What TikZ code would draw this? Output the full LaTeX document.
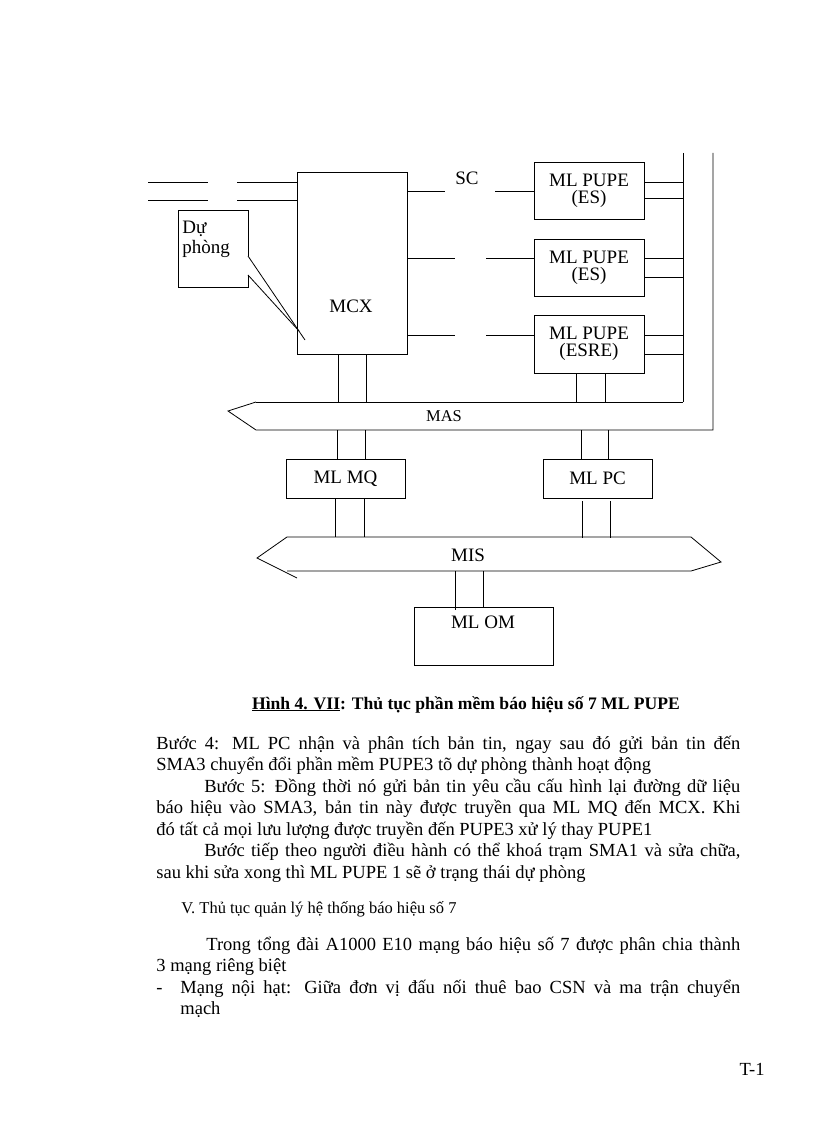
\documentclass[tikz,border=0pt]{standalone}
\usepackage{fontspec}
\setmainfont{Liberation Serif}
\begin{document}
\begin{tikzpicture}[x=1pt,y=-1pt,line width=0.8pt,
  box/.style={draw,inner sep=0pt},
  lbl/.style={font=\fontsize{19}{19}\selectfont,align=center},
  body/.style={anchor=base west,inner sep=0pt,font=\fontsize{18.5}{21}\selectfont}]
\useasboundingbox (0,0) rectangle (816,1123);
% boxes
\node[box,minimum width=110pt,minimum height=182pt] (mcx) at (352,263) {};
\node[lbl] at (351,306) {MCX};
\node[box,minimum width=110pt,minimum height=57pt,lbl] (p1) at (589,190.5) {ML PUPE\\[-2pt](ES)};
\node[box,minimum width=110pt,minimum height=57pt,lbl] (p2) at (589,267.5) {ML PUPE\\[-2pt](ES)};
\node[box,minimum width=110pt,minimum height=58pt,lbl] (p3) at (589,344) {ML PUPE\\[-2pt](ESRE)};
\node[box,minimum width=119pt,minimum height=39pt,lbl] (mq) at (345.5,478.5) {ML MQ};
\node[box,minimum width=109pt,minimum height=39pt,lbl] (pc) at (597.5,478.5) {ML PC};
\node[box,minimum width=139pt,minimum height=58pt] (om) at (483.5,636) {};
\node[lbl] at (483,622) {ML OM};
% Du phong callout
\draw (248,256) -- (248,210) -- (178,210) -- (178,287) -- (248,287) -- (248,275);
\draw (248,256) -- (305,340);
\draw (248,275) -- (299,331);
\node[lbl,anchor=north west,align=left,inner sep=0pt] (dp) at (182,221) {Dự\\[1pt]phòng};
% left input lines
\draw (148,182) -- (208,182) (237,182) -- (mcx.west |- 0,182);
\draw (148,200) -- (208,200) (237,200) -- (mcx.west |- 0,200);
% MCX -> PUPE lines
\draw (mcx.east |- 0,191) -- (445,191) (495,191) -- (p1.west |- 0,191);
\node[lbl] (sc) at (467,178) {SC};
\draw (mcx.east |- 0,258) -- (455,258) (486,258) -- (p2.west |- 0,258);
\draw (mcx.east |- 0,335) -- (455,335) (486,335) -- (p3.west |- 0,335);
% PUPE right lines
\coordinate (v1t) at (683,153);
\coordinate (v1b) at (683,402);
\draw (v1t) -- (v1b);
\foreach \y in {182,198,258,277,335,354} \draw (644,\y) -- (683,\y);
% MAS bus
\coordinate (o1) at (713,153);
\draw (256,402) -- (v1b);
\draw (o1) -- (713,430) -- (256,430) -- (228,411) -- (256,402);
\node[font=\fontsize{16.5}{17}\selectfont] (mas) at (444,416) {MAS};
% MCX - MAS - MQ
\draw (338,354) -- (338,402) (366,354) -- (366,402);
\draw (337,430) -- (337,459) (365,430) -- (365,459);
\draw (576,373) -- (576,402) (605,373) -- (605,402);
\draw (581,430) -- (581,459) (608,430) -- (608,459);
% MIS bus
\draw (335,499) -- (335,537) (364,499) -- (364,537);
\draw (582,501) -- (582,538) (610,501) -- (610,538);
\draw (287,537) -- (691,537) -- (721,562) -- (691,571) -- (287,571);
\draw (287,537) -- (257,558) -- (297,578);
\node[lbl] (mis) at (468,555) {MIS};
\draw (455,571) -- (455,610) (483,571) -- (483,607);
% caption
\node[anchor=base,inner sep=0pt,font=\bfseries\fontsize{17.6}{19}\selectfont] (cap) at (466,709) {\underline{Hình 4. VII}: Thủ tục phần mềm báo hiệu số 7 ML PUPE};
% body
\node[body] at (156,749) {\makebox[584pt][s]{Bước 4: ML PC nhận và phân tích bản tin, ngay sau đó gửi bản tin đến}};
\node[body] at (156,770.5) {SMA3 chuyển đổi phần mềm PUPE3 tõ dự phòng thành hoạt động};
\node[body] at (204,792) {\makebox[536pt][s]{Bước 5: Đồng thời nó gửi bản tin yêu cầu cấu hình lại đường dữ liệu}};
\node[body] at (156,813.5) {\makebox[584pt][s]{báo hiệu vào SMA3, bản tin này được truyền qua ML MQ đến MCX. Khi}};
\node[body] at (156,835) {đó tất cả mọi lưu lượng được truyền đến PUPE3 xử lý thay PUPE1};
\node[body] at (204,856.5) {\makebox[536pt][s]{Bước tiếp theo người điều hành có thể khoá trạm SMA1 và sửa chữa,}};
\node[body] at (156,878) {sau khi sửa xong thì ML PUPE 1 sẽ ở trạng thái dự phòng};
\node[body,font=\fontsize{16.5}{18}\selectfont] at (181,913) {V. Thủ tục quản lý hệ thống báo hiệu số 7};
\node[body] at (206,950) {\makebox[534pt][s]{Trong tổng đài A1000 E10 mạng báo hiệu số 7 được phân chia thành}};
\node[body] at (156,971.5) {3 mạng riêng biệt};
\node[body] at (156,993) {-};
\node[body] at (180,993) {\makebox[560pt][s]{Mạng nội hạt: Giữa đơn vị đấu nối thuê bao CSN và ma trận chuyển}};
\node[body] at (180,1014.5) {mạch};
\node[body,anchor=base east] at (765,1075) {T-1};
\end{tikzpicture}
\end{document}
